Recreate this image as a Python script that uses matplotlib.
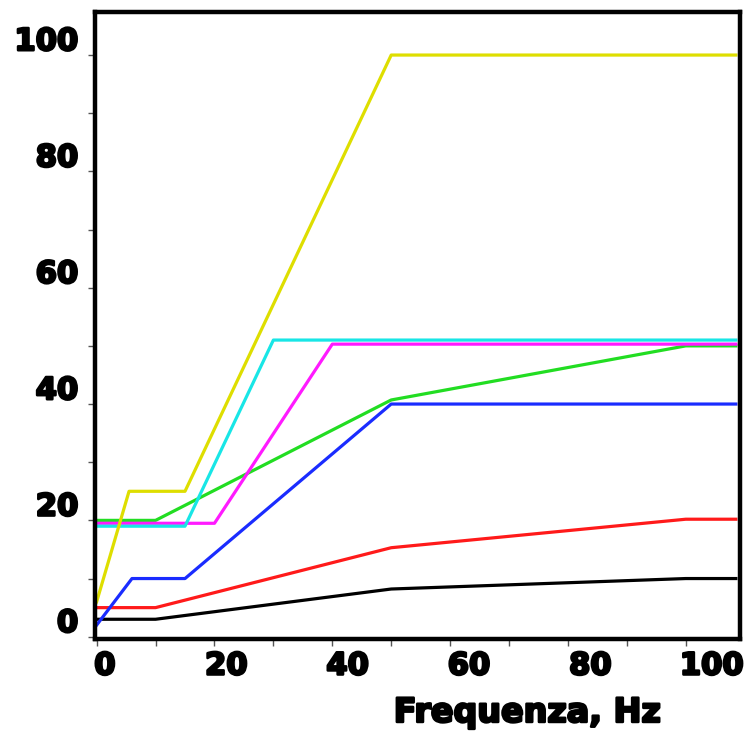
import numpy as np
import matplotlib.pyplot as plt
import matplotlib.patheffects as pe

# breakpoints of each curve (frequency in Hz, value)
x_yellow = [0, 5.5, 15, 50, 108.5]
y_yellow = [6, 25, 25, 100, 100]
x_cyan = [0, 15, 30, 108.5]
y_cyan = [19, 19, 51, 51]
x_magenta = [0, 20, 40, 108.5]
y_magenta = [19.5, 19.5, 50.3, 50.3]
x_green = [0, 10, 50, 100, 108.5]
y_green = [20, 20, 40.7, 50, 50]
x_blue = [0, 6, 15, 50, 108.5]
y_blue = [2, 10, 10, 40, 40]
x_red = [0, 10, 50, 100, 108.5]
y_red = [5, 5, 15.3, 20.2, 20.2]
x_black = [0, 10, 50, 100, 108.5]
y_black = [3, 3, 8.2, 10, 10]

x_labels = [0, 20, 40, 60, 80, 100]
y_labels = [0, 20, 40, 60, 80, 100]

fig = plt.figure(figsize=(7.47, 7.32), dpi=100)
ax = fig.add_axes([0.127, 0.127, 0.8636, 0.8566])

lw = 2.3
ax.plot(x_black, y_black, color='black', lw=lw)
ax.plot(x_red, y_red, color='#ff1a1a', lw=lw)
ax.plot(x_blue, y_blue, color='#1a2cff', lw=lw)
ax.plot(x_green, y_green, color='#22dd22', lw=lw)
ax.plot(x_magenta, y_magenta, color='#ff1aff', lw=lw)
ax.plot(x_cyan, y_cyan, color='#18e6e6', lw=lw)
ax.plot(x_yellow, y_yellow, color='#dede00', lw=lw)

ax.set_xlim(-0.3, 109.2)
ax.set_ylim(-0.4, 107.4)

for s in ax.spines.values():
    s.set_linewidth(3.2)

# small tick marks every 10 units, scanned labels sit a little off them
ax.set_xticks(np.arange(0, 101, 10), minor=True)
ax.set_yticks(np.arange(0, 101, 10), minor=True)
ax.set_xticks([1.4 + 1.03 * v for v in x_labels])
ax.set_yticks([2.8 + v for v in y_labels])
heavy = [pe.withStroke(linewidth=1.8, foreground='black')]
font = dict(family='DejaVu Sans', weight='bold', size=22)
ax.set_xticklabels([str(v) for v in x_labels], **font)
ax.set_yticklabels([str(v) for v in y_labels], **font)
for t in ax.get_xticklabels() + ax.get_yticklabels():
    t.set_path_effects(heavy)
ax.tick_params(which='major', length=0)
ax.tick_params(axis='x', which='major', pad=9)
ax.tick_params(axis='y', which='major', pad=12)
ax.tick_params(which='minor', length=5, width=1, color='#555555')

fig.text(0.706, 0.0137, 'Frequenza, Hz', ha='center', va='baseline',
         family='DejaVu Sans', weight='bold', size=24, path_effects=heavy)

fig.savefig('out.png', dpi=100)
